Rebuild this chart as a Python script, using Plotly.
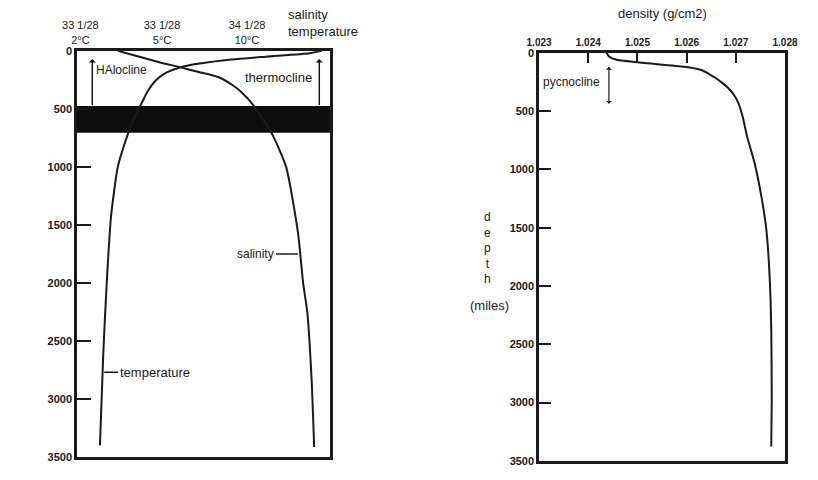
import plotly.graph_objects as go

# ---- Left panel: salinity & temperature profiles (positions along the top scale) ----
top_tick_pos = [0.04, 1.0, 2.0]
top_tick_labels = ["33 1/28<br>2°C", "33 1/28<br>5°C", "34 1/28<br>10°C"]

temp_depth = [0, 20, 50, 80, 115, 150, 200, 260, 350, 450, 600, 800, 1000, 1430, 2000, 2600, 3400]
temp_pos = [2.88, 2.74, 2.22, 1.74, 1.38, 1.18, 1.02, 0.92, 0.83, 0.76, 0.66, 0.56, 0.48, 0.40, 0.35, 0.31, 0.27]

sal_depth = [0, 40, 100, 140, 180, 225, 290, 353, 483, 724, 1000, 1569, 2000, 2258, 2836, 3414]
sal_pos = [0.48, 0.68, 0.98, 1.21, 1.42, 1.66, 1.82, 1.93, 2.09, 2.30, 2.46, 2.60, 2.66, 2.71, 2.76, 2.79]

band_depth = [475, 705]

# ---- Right panel: density profile ----
dens_ticks = [1.023, 1.024, 1.025, 1.026, 1.027, 1.028]
dens_depth = [0, 35, 60, 86, 120, 146, 180, 214, 260, 300, 360, 429, 550, 720, 943, 1234, 1517, 1946, 2374, 2974, 3377]
dens_val = [1.02437, 1.02443, 1.02458, 1.02510, 1.02595, 1.02628, 1.02645, 1.02658, 1.02673, 1.02684,
            1.02696, 1.02705, 1.02714, 1.02723, 1.02738, 1.02752, 1.02762, 1.02769, 1.02772, 1.02773, 1.02772]

depth_ticks = [0, 500, 1000, 1500, 2000, 2500, 3000, 3500]

FONT = "Liberation Sans"
INK = "#1a1a1a"

fig = go.Figure()
fig.add_trace(go.Scatter(x=temp_pos, y=temp_depth, mode="lines",
                         line=dict(color=INK, width=2, shape="spline", smoothing=0.6),
                         xaxis="x", yaxis="y", showlegend=False, hoverinfo="skip"))
fig.add_trace(go.Scatter(x=sal_pos, y=sal_depth, mode="lines",
                         line=dict(color=INK, width=2, shape="spline", smoothing=0.6),
                         xaxis="x", yaxis="y", showlegend=False, hoverinfo="skip"))
fig.add_trace(go.Scatter(x=dens_val, y=dens_depth, mode="lines",
                         line=dict(color=INK, width=2, shape="spline", smoothing=0.5),
                         xaxis="x2", yaxis="y2", showlegend=False, hoverinfo="skip"))

axis_common = dict(showline=True, mirror=True, linecolor=INK, linewidth=2.5, showgrid=False,
                   zeroline=False, automargin=False)
ytick_font = dict(family=FONT, size=11, color=INK, weight="bold")

fig.update_layout(
    width=818, height=480,
    margin=dict(l=0, r=0, t=0, b=0, pad=0),
    paper_bgcolor="white", plot_bgcolor="white",
    font=dict(family=FONT, color=INK),
    xaxis=dict(domain=[0.0941, 0.4034], range=[0, 2.976], side="top", anchor="y",
               tickmode="array", tickvals=top_tick_pos, ticktext=top_tick_labels,
               ticks="", tickfont=dict(family=FONT, size=11, color=INK), **axis_common),
    yaxis=dict(domain=[0.048, 0.894], range=[3500, 0], anchor="x",
               tickmode="array", tickvals=depth_ticks, ticks="inside", ticklen=14, tickwidth=2,
               tickcolor=INK, tickfont=ytick_font, **axis_common),
    xaxis2=dict(domain=[0.659, 0.9597], range=[1.023, 1.028], side="top", anchor="y2",
                tickmode="array", tickvals=dens_ticks, ticktext=[f"{v:.3f}" for v in dens_ticks],
                ticks="inside", ticklen=10, tickwidth=1.5, tickcolor=INK,
                tickfont=dict(family=FONT, size=10, color=INK, weight="bold"), **axis_common),
    yaxis2=dict(domain=[0.040, 0.890], range=[3500, 0], anchor="x2",
                tickmode="array", tickvals=depth_ticks, ticks="inside", ticklen=12, tickwidth=2,
                tickcolor=INK, tickfont=ytick_font, **axis_common),
)

# dark band in left panel
fig.add_shape(type="rect", xref="x domain", yref="y", x0=0, x1=1, y0=band_depth[0], y1=band_depth[1],
              fillcolor="#0d0d0d", line=dict(width=0), layer="below")

ann_font = dict(family=FONT, size=13, color=INK)

# axis header labels
fig.add_annotation(text="salinity<br>temperature", xref="paper", yref="paper", x=286/818, y=1 - 5/480,
                   xanchor="left", yanchor="top", align="left", showarrow=False, font=ann_font)
fig.add_annotation(text="density (g/cm2)", xref="paper", yref="paper", x=662/818, y=1 - 13/480,
                   xanchor="center", yanchor="middle", showarrow=False, font=ann_font)
fig.add_annotation(text="d<br>e<br>p<br>t<br>h", xref="paper", yref="paper", x=487/818, y=1 - 248/480,
                   xanchor="center", yanchor="middle", showarrow=False,
                   font=dict(family=FONT, size=12, color=INK))
fig.add_annotation(text="(miles)", xref="paper", yref="paper", x=489/818, y=1 - 305/480,
                   xanchor="center", yanchor="middle", showarrow=False, font=ann_font)

# halocline / thermocline arrows
fig.add_annotation(x=0.18, y=70, ax=0.18, ay=480, xref="x", yref="y", axref="x", ayref="y",
                   text="", showarrow=True, arrowhead=1, arrowsize=0.8, arrowwidth=1.5, arrowcolor=INK)
fig.add_annotation(text="HAlocline", x=0.2, y=165, xref="x", yref="y", xanchor="left", yanchor="middle",
                   showarrow=False, font=dict(family=FONT, size=12, color=INK))
fig.add_annotation(x=2.85, y=70, ax=2.85, ay=480, xref="x", yref="y", axref="x", ayref="y",
                   text="", showarrow=True, arrowhead=1, arrowsize=0.8, arrowwidth=1.5, arrowcolor=INK)
fig.add_annotation(text="thermocline", x=2.79, y=230, xref="x", yref="y", xanchor="right", yanchor="middle",
                   showarrow=False, font=ann_font)

# curve labels
fig.add_annotation(text="salinity", x=2.6, y=1750, xref="x", yref="y", ax=-22, ay=0,
                   showarrow=True, arrowhead=0, arrowwidth=1.5, arrowcolor=INK,
                   xanchor="right", font=dict(family=FONT, size=12, color=INK))
fig.add_annotation(text="temperature", x=0.32, y=2770, xref="x", yref="y", ax=14, ay=0,
                   showarrow=True, arrowhead=0, arrowwidth=1.5, arrowcolor=INK,
                   xanchor="left", font=ann_font)

# pycnocline
fig.add_annotation(x=1.02442, y=120, ax=1.02442, ay=450, xref="x2", yref="y2", axref="x2", ayref="y2",
                   text="", showarrow=True, arrowhead=1, arrowside="end+start", arrowsize=0.8,
                   arrowwidth=1.2, arrowcolor=INK)
fig.add_annotation(text="pycnocline", x=1.02304, y=250, xref="x2", yref="y2", xanchor="left",
                   yanchor="middle", showarrow=False, font=dict(family=FONT, size=12, color=INK))

fig.write_html("out.html")
